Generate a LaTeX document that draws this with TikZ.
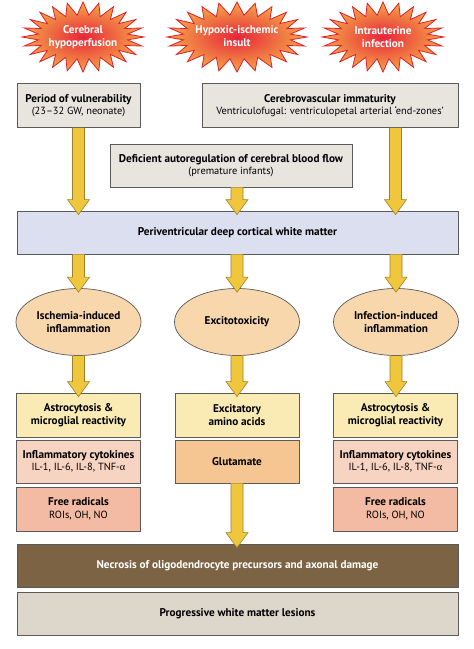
\documentclass[tikz,border=0pt]{standalone}
\usepackage{fontspec}
\setmainfont{PT Sans}
\newfontfamily\grk{Liberation Serif}
\usetikzlibrary{calc,shapes.geometric}
\definecolor{boxline}{HTML}{5A5A5A}
\definecolor{graybox}{HTML}{E8E5DF}
\definecolor{bluebox}{HTML}{DCDFF0}
\definecolor{peach}{HTML}{F9D7AD}
\definecolor{yellowbox}{HTML}{FAEBB5}
\definecolor{pinkbox}{HTML}{F7D3C2}
\definecolor{orangebox}{HTML}{F5C592}
\definecolor{salmonbox}{HTML}{F3BBA3}
\definecolor{brownbox}{HTML}{7B6344}
\definecolor{beigebox}{HTML}{DDD6CB}
\definecolor{arrowfill}{HTML}{F0C73C}
\definecolor{arrowedge}{HTML}{9C8030}
\definecolor{burstred}{HTML}{E8243A}
\definecolor{burstorange}{HTML}{F4A848}
\definecolor{burstedge}{HTML}{E0202E}
\newcommand\hd[1]{{\bfseries\fontsize{11.2}{12.5}\selectfont #1}}
\tikzset{
  flowbox/.style={draw=boxline, line width=0.8pt, inner sep=0pt, align=center,
    font=\fontsize{10.4}{12.5}\selectfont},
  ovalbox/.style={ellipse, draw=boxline, line width=0.7pt, fill=peach, inner sep=0pt,
    minimum width=125pt, minimum height=67pt, align=center,
    font=\bfseries\fontsize{11.2}{12.5}\selectfont},
  bursttext/.style={align=center, text=white, inner sep=0pt,
    font=\bfseries\fontsize{11.2}{12.5}\selectfont},
  blockarrow/.style={fill=arrowfill, draw=arrowedge, line width=0.6pt, line join=miter},
  burstshape/.style={draw=burstedge, line width=0.8pt, inner color=burstred, outer color=burstorange},
}
\newcommand\burstat[4]{% cx, cy, rx, ry
  \shadedraw[burstshape] plot[variable=\k, samples at={0,...,47}]
    ({#1+(#3-16*mod(\k,2))*cos(\k*7.5)},{#2+(#4-13*mod(\k,2))*sin(\k*7.5)}) -- cycle;
}
\newcommand\barrow[3]{% x reference, from node, to node
  \path[blockarrow] let \p1=(#1), \p2=(#2.south), \p3=(#3.north) in
    (\x1-6pt,\y2) -- (\x1-6pt,\y3+11pt) -- (\x1-11pt,\y3+11pt) -- (\x1,\y3-4pt)
    -- (\x1+11pt,\y3+11pt) -- (\x1+6pt,\y3+11pt) -- (\x1+6pt,\y2);
}
\begin{document}
\begin{tikzpicture}[x=1pt,y=-1pt]
\useasboundingbox[fill=white] (0,0) rectangle (474,649);

% starbursts
\burstat{83}{37}{61}{35}
\burstat{237}{37}{70}{35}
\burstat{383}{37}{61}{35}
\node[bursttext] (b1) at (83,37) {Cerebral\\hypoperfusion};
\node[bursttext] (b2) at (237,36) {Hypoxic-ischemic\\insult};
\node[bursttext] (b3) at (383,37) {Intrauterine\\infection};

% top boxes
\node[flowbox, fill=graybox, minimum width=123pt, minimum height=44pt] (period) at (78.5,105.5)
  {\hd{Period of vulnerability}\\(23--32 GW, neonate)};
\node[flowbox, fill=graybox, minimum width=256pt, minimum height=44pt] (cerebro) at (330,105.5)
  {\hd{Cerebrovascular immaturity}\\Ventriculofugal: ventriculopetal arterial ‘end-zones’};
\node[flowbox, fill=graybox, minimum width=242pt, minimum height=43pt] (defic) at (231,165.5)
  {\hd{Deficient autoregulation of cerebral blood flow}\\(premature infants)};

\node[flowbox, fill=bluebox, minimum width=441pt, minimum height=43pt] (periv) at (237.5,232.5)
  {\hd{Periventricular deep cortical white matter}};

% ellipses
\node[ovalbox] (ischemia) at (78.5,322) {Ischemia-induced\\inflammation};
\node[ovalbox] (excito) at (237,322) {Excitotoxicity};
\node[ovalbox] (infection) at (396,322) {Infection-induced\\inflammation};

% left column
\node[flowbox, fill=yellowbox, minimum width=124pt, minimum height=44pt] (astroL) at (78.5,415)
  {\hd{Astrocytosis \&}\\\hd{microglial reactivity}};
\node[flowbox, fill=pinkbox, minimum width=124pt, minimum height=43pt] (cytoL) at (78.5,461.5)
  {\hd{Inflammatory cytokines}\\IL-1, IL-6, IL-8, TNF-{\grk α}};
\node[flowbox, fill=salmonbox, minimum width=124pt, minimum height=44pt] (radL) at (78.5,509)
  {\hd{Free radicals}\\ROIs, OH, NO};

% middle column
\node[flowbox, fill=yellowbox, minimum width=124pt, minimum height=44pt] (exam) at (237,415)
  {\hd{Excitatory}\\\hd{amino acids}};
\node[flowbox, fill=orangebox, minimum width=124pt, minimum height=43pt] (gluta) at (237,461.5)
  {\hd{Glutamate}};

% right column
\node[flowbox, fill=yellowbox, minimum width=124pt, minimum height=44pt] (astroR) at (395.5,415)
  {\hd{Astrocytosis \&}\\\hd{microglial reactivity}};
\node[flowbox, fill=pinkbox, minimum width=124pt, minimum height=43pt] (cytoR) at (395.5,461.5)
  {\hd{Inflammatory cytokines}\\IL-1, IL-6, IL-8, TNF-{\grk α}};
\node[flowbox, fill=salmonbox, minimum width=124pt, minimum height=44pt] (radR) at (395.5,509)
  {\hd{Free radicals}\\ROIs, OH, NO};

% bottom
\node[flowbox, fill=brownbox, text=white, minimum width=441pt, minimum height=43pt] (necro) at (237.5,565.5)
  {\hd{Necrosis of oligodendrocyte precursors and axonal damage}};
\node[flowbox, fill=beigebox, minimum width=441pt, minimum height=43pt] (prog) at (237.5,613.5)
  {\hd{Progressive white matter lesions}};

% column references
\coordinate (cL) at (78.5,0);
\coordinate (cM) at (237,0);
\coordinate (cR) at (395.5,0);

% block arrows
\barrow{cL}{period}{periv}
\barrow{cM}{defic}{periv}
\barrow{cR}{cerebro}{periv}
\barrow{ischemia}{periv}{ischemia}
\barrow{excito}{periv}{excito}
\barrow{infection}{periv}{infection}
\barrow{ischemia}{ischemia}{astroL}
\barrow{excito}{excito}{exam}
\barrow{infection}{infection}{astroR}
\barrow{cM}{gluta}{necro}
\end{tikzpicture}
\end{document}
